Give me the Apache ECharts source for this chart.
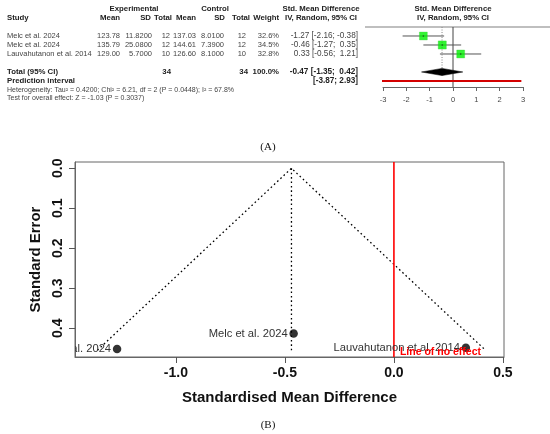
<!DOCTYPE html>
<html><head><meta charset="utf-8">
<script src="https://cdn.jsdelivr.net/npm/echarts@6/dist/echarts.min.js"></script>
<style>html,body{margin:0;padding:0;background:#fff}#c{width:550px;height:434px}</style>
</head><body><div id="c"></div>
<script>
// ---------- data ----------
const studies = ['Melc et al. 2024', 'Melc et al. 2024', 'Lauvahutanon et al. 2014'];
const expMean = ['123.78', '135.79', '129.00'];
const expSD = ['11.8200', '25.0800', '5.7000'];
const expN = ['12', '12', '10'];
const ctrlMean = ['137.03', '144.61', '126.60'];
const ctrlSD = ['8.0100', '7.3900', '8.1000'];
const ctrlN = ['12', '12', '10'];
const weightPct = [32.6, 34.5, 32.8];
const smd = [-1.27, -0.46, 0.33];
const ciLow = [-2.16, -1.27, -0.56];
const ciHigh = [-0.38, 0.35, 1.21];
const totalExp = '34';
const totalCtrl = '34';
const totalWeight = '100.0%';
const pooledSMD = -0.47;
const pooledLow = -1.35;
const pooledHigh = 0.42;
const predLow = -3.87;
const predHigh = 2.93;
const heterogeneityText = 'Heterogeneity: Tau\u00b2 = 0.4200; Chi\u00b2 = 6.21, df = 2 (P = 0.0448); I\u00b2 = 67.8%';
const overallText = 'Test for overall effect: Z = -1.03 (P = 0.3037)';
const forestTicks = [-3, -2, -1, 0, 1, 2, 3];

const seValues = [0.452, 0.413, 0.449];
const funnelX = [-1.36, -0.47, 0.42];
const funnelSE = [0.455, 0, 0.455];
const funnelXTicks = [-1, -0.5, 0, 0.5];
const funnelYTicks = [0, 0.1, 0.2, 0.3, 0.4];
const noEffectLabel = 'Line of no effect';

// ---------- chart ----------
const FONT = '"Liberation Sans", Arial, Helvetica, sans-serif';
const chart = echarts.init(document.getElementById('c'), null, {renderer: 'canvas'});
const fmt = v => v.toFixed(2);
const ciStr = (e, l, h) => (e < 0 ? '' : ' ') + fmt(e) + ' [' + fmt(l) + '; ' + (h < 0 ? '' : ' ') + fmt(h) + ']';

const option = {
  backgroundColor: '#fff',
  animation: false,
  grid: [
    {left: 383, top: 27, width: 140, height: 60},
    {left: 75, top: 162, width: 429, height: 195, show: true, borderColor: '#666', borderWidth: 1}
  ],
  xAxis: [
    {gridIndex: 0, type: 'value', min: -3, max: 3, interval: 1,
     axisLine: {show: true, onZero: false, lineStyle: {color: '#666', width: 1}},
     axisTick: {show: true, length: 4, customValues: forestTicks, lineStyle: {color: '#666'}},
     axisLabel: {customValues: forestTicks, fontSize: 7.5, color: '#444', margin: 9, fontFamily: FONT, formatter: v => String(v)},
     splitLine: {show: false}},
    {gridIndex: 1, type: 'value', min: -1.463, max: 0.505,
     axisLine: {show: true, onZero: false, lineStyle: {color: '#666'}},
     axisTick: {show: true, length: 6, customValues: funnelXTicks, lineStyle: {color: '#555'}},
     axisLabel: {customValues: funnelXTicks, fontSize: 14, fontWeight: 'bold', color: '#111', margin: 9,
                 fontFamily: FONT, formatter: v => v.toFixed(1)},
     splitLine: {show: false},
     name: 'Standardised Mean Difference', nameLocation: 'middle', nameGap: 33,
     nameTextStyle: {fontSize: 15, fontWeight: 'bold', color: '#111', fontFamily: FONT}}
  ],
  yAxis: [
    {gridIndex: 0, type: 'value', min: 0, max: 6.67, inverse: true, show: false},
    {gridIndex: 1, type: 'value', min: -0.0158, max: 0.472, inverse: true,
     axisLine: {show: true, onZero: false, lineStyle: {color: '#666'}},
     axisTick: {show: true, length: 6, customValues: funnelYTicks, lineStyle: {color: '#555'}},
     axisLabel: {customValues: funnelYTicks, rotate: 90, fontSize: 14, fontWeight: 'bold', color: '#111',
                 margin: 10, fontFamily: FONT, formatter: v => v.toFixed(1)},
     splitLine: {show: false},
     name: 'Standard Error', nameLocation: 'middle', nameGap: 32, nameRotate: 90,
     nameTextStyle: {fontSize: 15, fontWeight: 'bold', color: '#111', fontFamily: FONT}}
  ],
  series: [
    {type: 'line', xAxisIndex: 0, yAxisIndex: 0, data: [[0, 0], [0, 6.67]], symbol: 'none',
     lineStyle: {color: '#444', width: 1}, silent: true, z: 1},
    {type: 'line', xAxisIndex: 0, yAxisIndex: 0, data: [[pooledSMD, 0], [pooledSMD, 5.5]], symbol: 'none',
     lineStyle: {color: '#888', width: 1, type: [1, 1.5]}, silent: true, z: 1},
    {type: 'custom', xAxisIndex: 0, yAxisIndex: 0,
     data: studies.map((s, i) => [ciLow[i], ciHigh[i], i + 1]),
     encode: {x: [0, 1], y: 2},
     renderItem: (params, api) => {
       const a = api.coord([api.value(0), api.value(2)]);
       const b = api.coord([api.value(1), api.value(2)]);
       return {type: 'line', shape: {x1: a[0], y1: a[1], x2: b[0], y2: b[1]}, style: {stroke: '#555', lineWidth: 1}};
     }, z: 2},
    {type: 'scatter', xAxisIndex: 0, yAxisIndex: 0, symbol: 'rect',
     data: studies.map((s, i) => [smd[i], i + 1]),
     symbolSize: (v, p) => 8 * Math.sqrt(weightPct[p.dataIndex] / 33.3),
     itemStyle: {color: '#00f000', borderColor: '#3c3', borderWidth: 0.4}, z: 3},
    {type: 'scatter', xAxisIndex: 0, yAxisIndex: 0, symbol: 'circle', symbolSize: 1.6,
     data: studies.map((s, i) => [smd[i], i + 1]), itemStyle: {color: '#222'}, z: 4},
    {type: 'custom', xAxisIndex: 0, yAxisIndex: 0,
     data: [[pooledLow, pooledSMD, pooledHigh, 5]], encode: {x: [0, 1, 2], y: 3},
     renderItem: (params, api) => {
       const l = api.coord([api.value(0), api.value(3)]);
       const m = api.coord([api.value(1), api.value(3)]);
       const h = api.coord([api.value(2), api.value(3)]);
       return {type: 'polygon', shape: {points: [l, [m[0], m[1] - 3.6], h, [m[0], m[1] + 3.6]]},
               style: {fill: '#000', stroke: '#000', lineWidth: 0.5}};
     }, z: 3},
    {type: 'line', xAxisIndex: 0, yAxisIndex: 0, data: [[predLow, 6], [predHigh, 6]], symbol: 'none',
     clip: false, lineStyle: {color: '#d40000', width: 2}, silent: true, z: 3},

    {type: 'line', xAxisIndex: 1, yAxisIndex: 1, data: funnelX.map((x, i) => [x, funnelSE[i]]), symbol: 'none',
     lineStyle: {color: '#000', width: 1.3, type: [1.6, 2.8]}, silent: true, z: 2},
    {type: 'line', xAxisIndex: 1, yAxisIndex: 1, data: [[funnelX[1], funnelSE[1]], [funnelX[1], funnelSE[0]]], symbol: 'none',
     lineStyle: {color: '#000', width: 1.3, type: [1.6, 2.8]}, silent: true, z: 2},
    {type: 'line', xAxisIndex: 1, yAxisIndex: 1, data: [[0, -0.0158], [0, 0.472]], symbol: 'none',
     lineStyle: {color: '#ff0000', width: 1.6}, silent: true, z: 2},
    {type: 'custom', xAxisIndex: 1, yAxisIndex: 1, clip: true,
     data: studies.map((s, i) => [smd[i], seValues[i]]), encode: {x: 0, y: 1},
     renderItem: (params, api) => {
       const p = api.coord([api.value(0), api.value(1)]);
       return {type: 'text', x: p[0] - 6, y: p[1],
               style: {text: studies[params.dataIndex], align: 'right', verticalAlign: 'middle',
                       fontSize: 11.2, fontFamily: FONT, fill: '#333'}};
     }, z: 3},
    {type: 'scatter', xAxisIndex: 1, yAxisIndex: 1, symbol: 'circle', symbolSize: 8.5,
     data: studies.map((s, i) => [smd[i], seValues[i]]), itemStyle: {color: '#000'}, z: 4},
    {type: 'custom', xAxisIndex: 1, yAxisIndex: 1, clip: false,
     data: [[0, 0.459]], encode: {x: 0, y: 1},
     renderItem: (params, api) => {
       const p = api.coord([api.value(0), api.value(1)]);
       return {type: 'text', x: p[0] + 6, y: p[1],
               style: {text: noEffectLabel, align: 'left', verticalAlign: 'middle',
                       fontSize: 10.5, fontWeight: 'bold', fontFamily: FONT, fill: '#ff0000'}};
     }, z: 5}
  ]
};
chart.setOption(option);

// ---------- table text (positions from forest y scale) ----------
const rowY = i => chart.convertToPixel({yAxisIndex: 0}, i);
const zeroX = chart.convertToPixel({xAxisIndex: 0}, 0);
const T = (x, y, s, align, bold, size, color) => ({
  type: 'text', x: x, y: y, silent: true,
  style: {text: s, align: align, verticalAlign: 'middle', fontSize: size, fontWeight: bold ? 'bold' : 'normal',
          fontFamily: FONT, fill: color}
});
const H = 7.8, R = 7.5, C = 8.2, HC = '#222', RC = '#444';
const CIX = 358;
const g = [];
g.push(T(134, rowY(-2), 'Experimental', 'center', true, H, HC));
g.push(T(215, rowY(-2), 'Control', 'center', true, H, HC));
g.push(T(321, rowY(-2), 'Std. Mean Difference', 'center', true, H, HC));
g.push(T(zeroX, rowY(-2), 'Std. Mean Difference', 'center', true, H, HC));
g.push(T(7, rowY(-1), 'Study', 'left', true, H, HC));
g.push(T(120, rowY(-1), 'Mean', 'right', true, H, HC));
g.push(T(151, rowY(-1), 'SD', 'right', true, H, HC));
g.push(T(172, rowY(-1), 'Total', 'right', true, H, HC));
g.push(T(196, rowY(-1), 'Mean', 'right', true, H, HC));
g.push(T(225, rowY(-1), 'SD', 'right', true, H, HC));
g.push(T(250, rowY(-1), 'Total', 'right', true, H, HC));
g.push(T(279, rowY(-1), 'Weight', 'right', true, H, HC));
g.push(T(321, rowY(-1), 'IV, Random, 95% CI', 'center', true, H, HC));
g.push(T(zeroX, rowY(-1), 'IV, Random, 95% CI', 'center', true, H, HC));
g.push({type: 'line', silent: true, shape: {x1: 365, y1: rowY(0), x2: 550, y2: rowY(0)},
        style: {stroke: '#aaa', lineWidth: 1.5}});
studies.forEach((s, i) => {
  const y = rowY(i + 1);
  g.push(T(7, y, s, 'left', false, R, RC));
  g.push(T(120, y, expMean[i], 'right', false, R, RC));
  g.push(T(152, y, expSD[i], 'right', false, R, RC));
  g.push(T(170, y, expN[i], 'right', false, R, RC));
  g.push(T(196, y, ctrlMean[i], 'right', false, R, RC));
  g.push(T(224, y, ctrlSD[i], 'right', false, R, RC));
  g.push(T(246, y, ctrlN[i], 'right', false, R, RC));
  g.push(T(279, y, weightPct[i].toFixed(1) + '%', 'right', false, R, RC));
  g.push(T(CIX, y, ciStr(smd[i], ciLow[i], ciHigh[i]), 'right', false, C, RC));
});
g.push(T(7, rowY(5), 'Total (95% CI)', 'left', true, H, HC));
g.push(T(171, rowY(5), totalExp, 'right', true, H, HC));
g.push(T(248, rowY(5), totalCtrl, 'right', true, H, HC));
g.push(T(279, rowY(5), totalWeight, 'right', true, H, HC));
g.push(T(CIX, rowY(5), ciStr(pooledSMD, pooledLow, pooledHigh), 'right', true, C, HC));
g.push(T(7, rowY(6), 'Prediction interval', 'left', true, H, HC));
g.push(T(CIX, rowY(6), '[' + fmt(predLow) + '; ' + fmt(predHigh) + ']', 'right', true, C, HC));
g.push(T(7, rowY(7), heterogeneityText, 'left', false, 7, RC));
g.push(T(7, rowY(7.85), overallText, 'left', false, 7, RC));
g.push({type: 'text', x: 268, y: 147, silent: true,
        style: {text: '(A)', align: 'center', verticalAlign: 'middle', fontSize: 11, fontFamily: '"Liberation Serif", "Times New Roman", serif', fill: '#111'}});
g.push({type: 'text', x: 268, y: 425, silent: true,
        style: {text: '(B)', align: 'center', verticalAlign: 'middle', fontSize: 11, fontFamily: '"Liberation Serif", "Times New Roman", serif', fill: '#111'}});
chart.setOption({graphic: g});
</script>
</body></html>
